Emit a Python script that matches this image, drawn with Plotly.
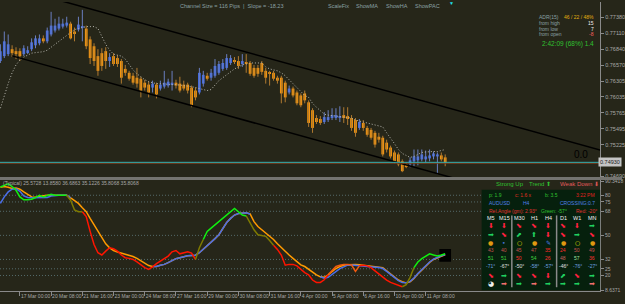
import plotly.graph_objects as go

W, H = 625, 304
BG = "#262619"
FONT = "Liberation Sans"
NARROW = "Liberation Sans Narrow, Liberation Sans"

# ---------------- data ----------------
date_labels = ["17 Mar 00:00", "20 Mar 08:00", "21 Mar 16:00", "23 Mar 00:00", "24 Mar 08:00",
               "27 Mar 16:00", "29 Mar 00:00", "30 Mar 08:00", "31 Mar 16:00", "4 Apr 00:00",
               "5 Apr 08:00", "6 Apr 16:00", "10 Apr 00:00", "11 Apr 08:00"]
date_label_bars = [5, 13, 21, 29, 37, 45, 53, 61, 69, 77, 85, 93, 101, 109]

opens = [.76643, .76726, .76760, .76843, .76810, .76810, .76760, .76793, .76843, .76909,
         .76943, .77026, .76976, .77092, .77159, .77192, .77225, .77242, .77275, .77142,
         .77175, .77209, .77192, .77009, .76893, .76726, .76776, .76810, .76643, .76726,
         .76693, .76643, .76510, .76444, .76394, .76361, .76344, .76277, .76244, .76194,
         .76244, .76178, .76211, .76228, .76244, .76277, .76261, .76244, .76244, .76194,
         .76144, .76111, .76261, .76394, .76361, .76394, .76444, .76510, .76527, .76610,
         .76660, .76643, .76593, .76627, .76610, .76527, .76527, .76610, .76477, .76444,
         .76444, .76361, .76361, .76277, .76111, .76178, .76111, .76061, .76095, .75945,
         .75812, .75679, .75662, .75612, .75645, .75679, .75679, .75695, .75729, .75712,
         .75679, .75645, .75512, .75596, .75512, .75479, .75429, .75363, .75346, .75263,
         .75180, .75097, .75064, .74947, .74897, .74897, .74947, .74964, .74980, .74980,
         .74997, .75030, .75030, .75047, .75014]
highs = [.76926, .77142, .77092, .76909, .76876, .76859, .76909, .76893, .77026, .77076,
         .77092, .77076, .77209, .77475, .77358, .77392, .77358, .77392, .77308, .77209,
         .77392, .77508, .77242, .77059, .76943, .76843, .76859, .76876, .76776, .76776,
         .76743, .76676, .76577, .76477, .76444, .76527, .76377, .76327, .76294, .76311,
         .76277, .76311, .76477, .76344, .76477, .76327, .76377, .76311, .76277, .76228,
         .76194, .76527, .76477, .76444, .76510, .76676, .76643, .76676, .76760, .76743,
         .76710, .76726, .76760, .76760, .76643, .76577, .76577, .76643, .76527, .76477,
         .76477, .76394, .76394, .76311, .76228, .76211, .76144, .76095, .76144, .75978,
         .75845, .75729, .75712, .75779, .75812, .75845, .75845, .75878, .75862, .75862,
         .75729, .75679, .75662, .75645, .75546, .75512, .75463, .75429, .75379, .75313,
         .75213, .75130, .75097, .74980, .74930, .75014, .75147, .75147, .75147, .75130,
         .75147, .75113, .75097, .75097, .75064]
lows = [.76610, .76693, .76726, .76710, .76676, .76643, .76726, .76760, .76810, .76859,
        .76909, .76943, .76943, .77059, .77125, .77159, .77192, .77209, .77009, .76976,
        .77142, .76976, .76843, .76593, .76560, .76394, .76477, .76510, .76543, .76560,
        .76543, .76261, .76394, .76311, .76244, .76194, .76028, .76144, .76028, .76111,
        .76011, .76144, .76178, .76194, .76144, .76178, .76111, .76144, .76095, .75862,
        .75978, .76078, .76211, .76311, .76311, .76361, .76410, .76477, .76494, .76577,
        .76593, .76510, .76543, .76444, .76394, .76361, .76377, .76410, .76261, .76228,
        .76311, .76261, .75928, .75945, .76078, .76028, .75895, .75862, .75928, .75529,
        .75429, .75579, .75562, .75579, .75612, .75645, .75645, .75612, .75596, .75562,
        .75463, .75363, .75479, .75463, .75363, .75313, .75180, .75263, .75030, .75097,
        .74997, .74914, .74864, .74764, .74831, .74847, .74864, .74880, .74947, .74930,
        .74947, .74980, .74731, .74947, .74864]
closes = [.76810, .76976, .76926, .76776, .76760, .76726, .76859, .76826, .76959, .77026,
          .77026, .76976, .77159, .77242, .77242, .77275, .77275, .77292, .77026, .77109,
          .77259, .77225, .76893, .76693, .76643, .76477, .76560, .76643, .76710, .76593,
          .76593, .76361, .76444, .76344, .76277, .76261, .76144, .76194, .76111, .76261,
          .76078, .76244, .76277, .76294, .76277, .76228, .76144, .76178, .76144, .75895,
          .76028, .76444, .76410, .76344, .76444, .76560, .76593, .76610, .76693, .76693,
          .76627, .76560, .76643, .76593, .76427, .76394, .76427, .76460, .76361, .76427,
          .76344, .76311, .76095, .76028, .76178, .76061, .75928, .75895, .75978, .75596,
          .75512, .75612, .75596, .75695, .75695, .75729, .75729, .75712, .75679, .75679,
          .75512, .75429, .75612, .75512, .75396, .75346, .75230, .75313, .75064, .75147,
          .75030, .74947, .74897, .74781, .74864, .74964, .75030, .75030, .75064, .75030,
          .75047, .75080, .75064, .74980, .74930]
ma_line = [.75845, .76061, .76261, .76444, .76577, .76660, .76710, .76743, .76776, .76785,
           .76793, .76801, .76826, .76876, .76926, .76976, .77026, .77076, .77125, .77175,
           .77192, .77209, .77225, .77225, .77225, .77192, .77059, .76926, .76826, .76760,
           .76743, .76726, .76676, .76577, .76494, .76427, .76377, .76327, .76294, .76277,
           .76261, .76261, .76253, .76244, .76244, .76244, .76236, .76228, .76228, .76211,
           .76194, .76178, .76161, .76144, .76161, .76244, .76311, .76361, .76410, .76460,
           .76510, .76543, .76577, .76593, .76610, .76610, .76610, .76610, .76543, .76510,
           .76494, .76477, .76444, .76394, .76327, .76261, .76194, .76128, .76061, .76028,
           .75928, .75862, .75795, .75745, .75729, .75720, .75712, .75712, .75704, .75695,
           .75679, .75645, .75629, .75612, .75596, .75579, .75562, .75546, .75529, .75429,
           .75346, .75246, .75147, .75080, .75047, .75014, .75030, .75064, .75097, .75105,
           .75113, .75113, .75113, .75130, .75147]

channel_start_bar = 3
channel_end_bar = 154
channel_lower_start = 0.76730
channel_lower_end = 0.73973
channel_size = 0.0116
current_price = 0.74930
ask_price = 0.74914

price_ticks = [0.77380, 0.77110, 0.76840, 0.76570, 0.76305, 0.76035, 0.75765, 0.75495, 0.75225, 0.74690]
price_range = [0.74681, 0.77641]

ind_fast = [86.2, 87.6, 88.6, 86.5, 83.7, 78.8, 76.6, 76.6, 77.0, 78.3,
            80.0, 78.8, 79.5, 80.7, 80.0, 80.0, 80.0, 80.0, 76.3, 69.0,
            67.7, 67.7, 64.0, 53.0, 43.2, 37.0, 35.3, 38.2, 40.7, 40.0,
            38.2, 35.3, 33.3, 32.8, 32.0, 30.1, 27.9, 25.9, 24.6, 26.4,
            28.9, 30.8, 32.8, 34.5, 37.7, 38.7, 36.2, 37.0, 37.7, 36.7,
            32.0, 40.7, 46.9, 53.0, 55.4, 57.8, 60.3, 62.7, 65.7, 68.1,
            70.2, 67.7, 65.2, 64.5, 59.1, 54.2, 50.5, 49.8, 49.3, 46.1,
            42.6, 39.5, 35.3, 27.7, 28.3, 28.3, 27.2, 24.6, 22.2, 20.5,
            16.6, 14.8, 14.8, 16.8, 20.5, 24.0, 26.7, 27.7, 28.3, 28.3,
            27.8, 23.0, 27.2, 27.7, 27.2, 25.9, 23.5, 21.0, 18.6, 16.6,
            14.8, 13.6, 12.4, 11.6, 13.1, 18.6, 25.9, 30.1, 32.6, 34.5,
            36.2, 35.3, 34.5, 35.3, 36.2]
ind_state = list("gggggggggggggggggg" "oooo" "rrrrrrrrrrrrrrrrrrrrrrrrrrrrr" "oo"
                 "ggggggggggg" "ooooooo" "rrrrrrrrrrrrrr" "dddddddd" "rrrrrrrrrrr" "ooo" "gggggggg")
ind_orange = [86.0, 86.5, 86.0, 85.0, 85.4, 84.5, 82.5, 80.5, 78.8, 78.5,
              79.2, 79.7, 80.0, 80.0, 80.0, 80.0, 80.0, 80.0, 78.1, 76.1,
              73.9, 70.7, 67.7, 62.7, 57.8, 53.0, 48.0, 43.7, 40.7, 38.7,
              37.5, 36.7, 36.2, 35.2, 34.2, 32.8, 30.8, 28.9, 27.4, 26.7,
              26.7, 27.7, 28.3, 29.6, 31.3, 32.6, 33.3, 34.2, 34.7, 35.0,
              35.2, 37.0, 39.5, 41.9, 44.4, 47.6, 50.5, 55.4, 59.6, 62.7,
              65.2, 66.4, 66.9, 66.9, 66.0, 60.3, 56.6, 54.2, 52.4, 49.3,
              46.9, 43.7, 40.7, 38.2, 35.3, 32.8, 30.3, 27.9, 26.7, 24.6,
              22.7, 20.5, 19.0, 18.6, 20.5, 23.0, 25.2, 26.7, 27.7, 28.1,
              28.3, 28.3, 28.1, 27.7, 27.4, 26.9, 26.7, 26.4, 25.9, 23.5,
              21.0, 18.6, 16.6, 15.4, 14.4, 15.3, 17.8, 21.2, 24.3, 27.4,
              29.8, 32.0, 33.4, 34.4, 35.4]
ind_blue = ([73.9, 78.8, 82.5, 84.5, 84.9, 82.9, 79.5, 78.3, 78.1, 78.1,
             78.1, 78.1, 78.3, 79.5, 80.0, 80.0, 80.0, 80.0, 78.1]
            + [None] * 20
            + [26.7, 26.7, 27.7, 28.3, 29.6, 31.3, 32.6, 33.3, 34.2, 34.7, 35.0,
               35.2, 37.0, 39.5, 41.9, 44.4, 47.6, 50.5, 55.4, 59.6, 62.7,
               65.2, 66.4, 66.9, 66.9, 66.0]
            + [None] * 17
            + [19.0, 17.9, 18.6, 21.0, 23.5, 25.2, 26.4, 27.7, 27.9, 27.7, 27.4,
               27.2, 26.9, 26.4, 26.2, 25.9, 25.2, 23.0, 20.5, 18.1, 16.1,
               14.8, 14.6, 15.6, 18.1, 21.5, 24.6, 27.7, 30.1, 32.3, 33.7,
               34.7, 35.7])
ind_levels = [80, 75, 68, 50, 32, 25, 20]
ind_ticks = [90.3418, 80, 75, 68, 50, 32, 25, 20, 8.6371]
ind_tick_text = ["90.3418", "80", "75", "68", "50", "32", "25", "20", "8.6371"]
ind_range = [8.6371, 91.4]

# info table
tf_names = ["M5", "M15", "M30", "H1", "H4", "D1", "W1", "MN"]
row_arrow1 = ["⬇", "⬇", "⬊", "⬊", "⬇", "⬊", "⬇", "➡"]
row_arrow1_c = ["r", "r", "r", "r", "r", "r", "r", "g"]
row_arrow2 = ["➡", "⬊", "⬈", "⬆", "⬇", "⬊", "➡", "⬊"]
row_arrow2_c = ["g", "r", "g", "g", "r", "r", "g", "r"]
row_dots = ["●", "•", "○", "●", "✎", "●", "○", "●"]
row_dots_c = ["#e09a10", "#4a7ae0", "#f0e000", "#e09a10", "#4a7ae0", "#e09a10", "#f0e000", "#e09a10"]
row_num1 = ["43", "40", "45", "47", "35", "24", "50", "49"]
row_num1_c = ["#c85050", "#c85050", "#c85050", "#c85050", "#ff2a2a", "#ff2a2a", "#c85050", "#c85050"]
row_num2 = ["51", "51", "50", "54", "26", "48", "57", "36"]
row_num2_c = ["#40d040", "#40d040", "#ff3030", "#40d040", "#ff3030", "#c86060", "#a0e0a0", "#ff3030"]
row_angle = ["-71°", "-67°", "-50°", "-58°", "-57°", "-46°", "-76°", "-27°"]
row_angle_c = ["#70a0e0", "#e0e0e0", "#e0e0e0", "#70a0e0", "#70a0e0", "#e0e0e0", "#70a0e0", "#70a0e0"]
row_arrow3 = ["⬊", "➡", "⬊", "⬊", "⬇", "⬈", "⬊", "➡"]
row_arrow3_c = ["r", "g", "r", "r", "r", "g", "r", "g"]
row_arrow4 = ["◕", "➡", "➡", "➡", "➡", "➡", "➡", "➡"]
row_arrow4_c = ["w", "p", "g", "p", "g", "g", "g", "p"]

# ---------------- figure ----------------
n = len(opens)
bars = list(range(n))
X_DOMAIN = [0, 603 / W]
P_DOMAIN = [1 - 178 / H, 1]
I_DOMAIN = [1 - 293.5 / H, 1 - 181 / H]

fig = go.Figure()

bull = [i for i in bars if closes[i] >= opens[i]]
bear = [i for i in bars if closes[i] < opens[i]]


def wick_trace(idx, color):
    xs, ys = [], []
    for i in idx:
        xs += [i, i, None]
        ys += [lows[i], highs[i], None]
    return go.Scatter(x=xs, y=ys, mode="lines", line=dict(color=color, width=1),
                      xaxis="x", yaxis="y", hoverinfo="skip", showlegend=False)


def body_trace(idx, color):
    return go.Bar(x=idx, y=[max(abs(closes[i] - opens[i]), 0.00005) for i in idx],
                  base=[min(opens[i], closes[i]) for i in idx], width=0.7,
                  marker=dict(color=color, line=dict(width=0)),
                  xaxis="x", yaxis="y", hoverinfo="skip", showlegend=False)


fig.add_trace(wick_trace(bull, "#6a7fc0"))
fig.add_trace(wick_trace(bear, "#b07a30"))
fig.add_trace(body_trace(bull, "#3f68e0"))
fig.add_trace(body_trace(bear, "#ff9a0a"))

fig.add_trace(go.Scatter(x=bars, y=ma_line, mode="lines",
                         line=dict(color="#b8b8b0", width=1, dash="1px,2px"),
                         xaxis="x", yaxis="y", hoverinfo="skip", showlegend=False))

for off in (0, channel_size):
    fig.add_trace(go.Scatter(x=[channel_start_bar, channel_end_bar],
                             y=[channel_lower_start + off, channel_lower_end + off],
                             mode="lines", line=dict(color="#000000", width=1.5),
                             xaxis="x", yaxis="y", hoverinfo="skip", showlegend=False))

# indicator lines
fig.add_trace(go.Scatter(x=bars, y=ind_orange, mode="lines", line=dict(color="#ff9a00", width=1.5),
                         xaxis="x", yaxis="y2", hoverinfo="skip", showlegend=False))
fig.add_trace(go.Scatter(x=bars, y=ind_blue, mode="lines", line=dict(color="#4a6ee8", width=1.5),
                         connectgaps=False, xaxis="x", yaxis="y2", hoverinfo="skip", showlegend=False))

state_colors = {"g": "#10f010", "o": "#7f7a00", "r": "#ff1400", "d": "#f05a10"}
start = 1
for i in range(1, n):
    if i == n - 1 or ind_state[i + 1] != ind_state[i]:
        xs = list(range(start - 1, i + 1))
        fig.add_trace(go.Scatter(x=xs, y=[ind_fast[k] for k in xs], mode="lines",
                                 line=dict(color=state_colors[ind_state[i]], width=1.5),
                                 xaxis="x", yaxis="y2", hoverinfo="skip", showlegend=False))
        start = i + 1

shapes = []
# separator between panels
shapes.append(dict(type="rect", xref="paper", yref="paper", x0=0, x1=1,
                   y0=1 - 181 / H, y1=1 - 178 / H, fillcolor="#747470", line=dict(width=0)))
# current price lines
shapes.append(dict(type="line", xref="paper", yref="y", x0=0, x1=X_DOMAIN[1],
                   y0=ask_price, y1=ask_price, line=dict(color="#7a3c1c", width=1)))
shapes.append(dict(type="line", xref="paper", yref="y", x0=0, x1=X_DOMAIN[1],
                   y0=current_price, y1=current_price, line=dict(color="#36b0b0", width=1)))
# indicator levels
for lv in ind_levels:
    shapes.append(dict(type="line", xref="paper", yref="y2", x0=0, x1=X_DOMAIN[1],
                       y0=lv, y1=lv, line=dict(color="#546a6a", width=1, dash="1px,2px"), layer="below"))
# black value box
shapes.append(dict(type="rect", xref="x", yref="y2", x0=112.5, x1=115.5, y0=30.3, y1=39.8,
                   fillcolor="#000000", line=dict(width=0), layer="below"))
# info table box
shapes.append(dict(type="rect", xref="paper", yref="paper", x0=484 / W, x1=X_DOMAIN[1],
                   y0=1 - 293 / H, y1=1 - 191 / H, fillcolor="#06200d", line=dict(width=0)))
for sx in (514.3, 559.3):
    shapes.append(dict(type="line", xref="paper", yref="paper", x0=sx / W, x1=sx / W,
                       y0=1 - 290 / H, y1=1 - 217 / H, line=dict(color="#8a8a8a", width=1.5)))

ann = []


def txt(x, y, s, color, size=5.5, xanchor="left", family=FONT):
    ann.append(dict(x=x / W, y=1 - y / H, xref="paper", yref="paper", text=s,
                    showarrow=False, xanchor=xanchor, yanchor="middle",
                    font=dict(color=color, size=size, family=family)))


TXT = "#8aa0a4"
txt(179, 4, "Channel Size = 116 Pips  |  Slope = -18.23", TXT, 5.5)
for xx, s in zip([328, 356, 386, 415], ["ScaleFix", "ShowMA", "ShowHA", "ShowPAC"]):
    txt(xx, 4, s, TXT, 5.5)
txt(454, 1, "▼", "#20e0f0", 5, xanchor="center")

txt(540, 15, "ADR(15)", TXT, 5)
txt(599, 15, "46 / 22 / 48%", "#e0b010", 5, xanchor="right")
txt(540, 21, "from high", TXT, 5)
txt(599, 21, "15", "#f0f0f0", 5, xanchor="right")
txt(540, 27, "from low", TXT, 5)
txt(599, 27, "7", "#f0f0f0", 5, xanchor="right")
txt(540, 33, "from open", TXT, 5)
txt(599, 33, "-8", "#ff6060", 5, xanchor="right")
txt(599, 43, "2:42:09 (68%) 1.4", "#30c030", 6.5, xanchor="right")

ann.append(dict(x=593 / W, xref="paper", y=current_price, yref="y", text="0.0", showarrow=False,
                xanchor="right", yanchor="bottom", font=dict(color="#000000", size=10, family=FONT)))
ann.append(dict(x=1, xref="paper", y=current_price, yref="y", text="0.74930", showarrow=False,
                xanchor="right", yanchor="middle", bgcolor="#c4c4c4", borderpad=1,
                font=dict(color="#202020", size=5.5, family=FONT)))

txt(1, 184.5, "(Typical) 25.5728 13.8580 36.6863 35.1226 35.8068 35.8068", "#a8a8a8", 5)
txt(496, 185, "Strong Up", "#30c030", 6)
txt(530, 185, "Trend ⬆", "#30c030", 6)
txt(561, 185, "Weak Down ⬇", "#e05a5a", 6)

# table header lines
txt(489, 196, "p: 1.9", "#30c030", 5)
txt(515, 196, "c: 1.6 x", "#e03020", 5)
txt(546, 196, "b: 3.5", "#30c030", 5)
txt(600, 196, "3:22 PM", "#e02020", 5, xanchor="right")
txt(489, 204, "AUDUSD", "#5080e8", 5)
txt(524, 204, "H4", "#5080e8", 5)
txt(561, 204, "CROSSING:", "#5080e8", 5)
txt(600, 204, "0.7", "#5080e8", 5, xanchor="right")
txt(489, 212, "Rel.Angle (gm): 2.93°", "#e03030", 5)
txt(542, 212, "Green: -57°", "#30c030", 5)
txt(577, 212, "Red: -20°", "#e03030", 5)

col_x = [493.3, 506.7, 521.7, 536.7, 551, 566, 580, 595]
arrow_cols = {"r": "#ff2040", "g": "#20d060", "p": "#f07070", "w": "#f0f0f0"}
for cx, name in zip(col_x, tf_names):
    txt(cx, 219.5, name, "#f0f0f0", 5.5, xanchor="center")
for row, cols, yy in [(row_arrow1, row_arrow1_c, 227.5), (row_arrow2, row_arrow2_c, 236.5),
                      (row_arrow3, row_arrow3_c, 279), (row_arrow4, row_arrow4_c, 287)]:
    for cx, s, c in zip(col_x, row, cols):
        txt(cx, yy, s, arrow_cols[c], 7, xanchor="center", family="DejaVu Sans")
for cx, s, c in zip(col_x, row_dots, row_dots_c):
    txt(cx, 244.5, s, c, 6, xanchor="center", family="DejaVu Sans")
for row, cols, yy in [(row_num1, row_num1_c, 252.5), (row_num2, row_num2_c, 260.5),
                      (row_angle, row_angle_c, 268.5)]:
    for cx, s, c in zip(col_x, row, cols):
        txt(cx, yy, s, c, 5, xanchor="center")

fig.update_layout(
    width=W, height=H, margin=dict(l=0, r=0, t=0, b=0),
    paper_bgcolor=BG, plot_bgcolor=BG, showlegend=False, barmode="overlay",
    font=dict(family=FONT, color="#a8a8a8", size=5.5),
    xaxis=dict(domain=X_DOMAIN, range=[-0.1, 153.7], anchor="y2", showgrid=False, zeroline=False,
               tickvals=date_label_bars, ticktext=date_labels, ticks="outside", ticklen=4,
               tickcolor="#8a8a8a", ticklabelposition="outside right", tickangle=0,
               tickfont=dict(size=5, color="#a8a8a8", family=NARROW),
               showline=True, linecolor="#8a8a8a", linewidth=1),
    yaxis=dict(domain=P_DOMAIN, range=price_range, side="right", anchor="x", showgrid=False,
               zeroline=False, tickvals=price_ticks, ticktext=["%.5f" % v for v in price_ticks],
               ticks="outside", ticklen=3, tickcolor="#8a8a8a",
               tickfont=dict(size=5.5, color="#a8a8a8", family=FONT),
               showline=True, linecolor="#8a8a8a", linewidth=1),
    yaxis2=dict(domain=I_DOMAIN, range=ind_range, side="right", anchor="x", showgrid=False,
                zeroline=False, tickvals=ind_ticks, ticktext=ind_tick_text,
                ticks="outside", ticklen=3, tickcolor="#8a8a8a",
                tickfont=dict(size=5, color="#a8a8a8", family=FONT),
                showline=True, linecolor="#8a8a8a", linewidth=1),
    shapes=shapes, annotations=ann,
)

fig.write_html("out.html")
